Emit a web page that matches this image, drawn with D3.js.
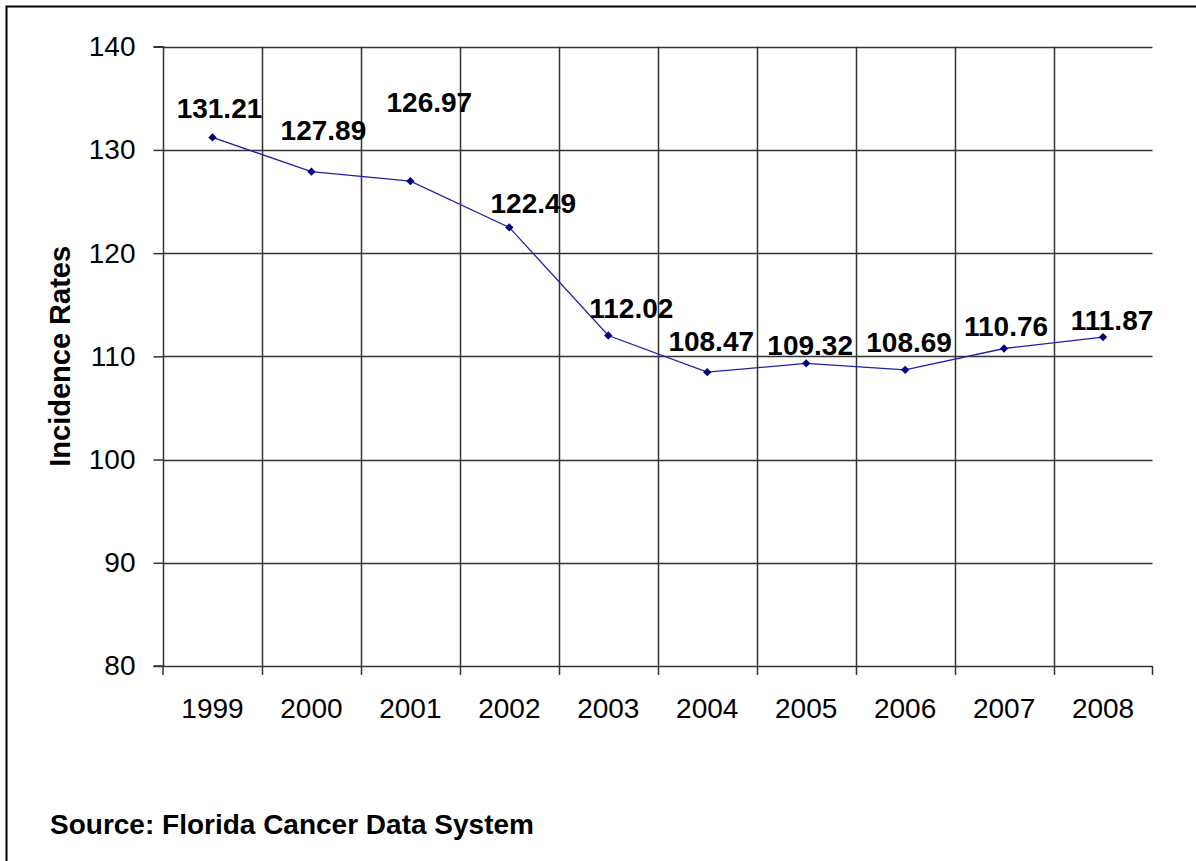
<!DOCTYPE html>
<html>
<head>
<meta charset="utf-8">
<script src="https://cdn.jsdelivr.net/npm/d3@7/dist/d3.min.js"></script>
<style>
  html, body { margin: 0; padding: 0; background: #fff; overflow: hidden; }
  svg { display: block; font-family: "Liberation Sans", Arial, sans-serif; }
</style>
</head>
<body>
<svg id="chart" width="1196" height="861"></svg>
<script>
// ---- data ----
const years = ["1999","2000","2001","2002","2003","2004","2005","2006","2007","2008"];
const rates = [131.21, 127.89, 126.97, 122.49, 112.02, 108.47, 109.32, 108.69, 110.76, 111.87];
const yTicks = [80, 90, 100, 110, 120, 130, 140];
// manual label nudges (dx, dy in px) relative to each point
const labelDx = [7, 12, 19, 24, 23, 4, 4, 4, 2, 9];
const labelDy = [-19, -32, -69, -14, -18, -21, -8, -18, -13, -7];
const yTitle = "Incidence Rates";
const sourceText = "Source: Florida Cancer Data System";

(function () {
// ---- layout ----
const svg = d3.select("#chart");
const pLeft = 163, pRight = 1152.5, pTop = 46.7, pBottom = 666;
const gridColor = "#333";

// outer frame (extends past right and bottom edges, as in the reference)
svg.append("rect")
  .attr("x", 6.5).attr("y", 6.5).attr("width", 1200).attr("height", 870)
  .attr("fill", "#fff").attr("stroke", "#000").attr("stroke-width", 2);

const x = d3.scaleBand().domain(years).range([pLeft, pRight]).paddingInner(0).paddingOuter(0);
const y = d3.scaleLinear().domain([80, 140]).range([pBottom, pTop]);

// horizontal gridlines
svg.append("g").selectAll("line").data(yTicks).join("line")
  .attr("x1", pLeft).attr("x2", pRight)
  .attr("y1", d => Math.round(y(d)) + 0.5).attr("y2", d => Math.round(y(d)) + 0.5)
  .attr("stroke", gridColor).attr("stroke-width", 1.5);

// vertical gridlines at category boundaries (interior)
const bounds = years.slice(1).map(d => x(d));
svg.append("g").selectAll("line").data(bounds).join("line")
  .attr("x1", d => Math.round(d) + 0.5).attr("x2", d => Math.round(d) + 0.5)
  .attr("y1", pTop).attr("y2", pBottom + 9)
  .attr("stroke", gridColor).attr("stroke-width", 1.5);

// y axis
const yAxis = d3.axisLeft(y).tickValues(yTicks).tickSize(10).tickPadding(18);
const gy = svg.append("g").attr("transform", `translate(${pLeft + 0.5},0)`).call(yAxis);
gy.select(".domain").attr("stroke", gridColor).attr("stroke-width", 1.5).attr("d", `M-10,${pTop}H0V${pBottom}H-10`);
gy.selectAll(".tick line").attr("stroke", gridColor).attr("stroke-width", 1.5);
gy.selectAll(".tick text").attr("font-size", 28).attr("fill", "#000")
  .attr("font-family", "Liberation Sans, Arial, sans-serif");

// x axis end ticks
svg.append("g").selectAll("line").data([pLeft, pRight]).join("line")
  .attr("x1", d => d).attr("x2", d => d)
  .attr("y1", pBottom).attr("y2", pBottom + 9)
  .attr("stroke", gridColor).attr("stroke-width", 1.5);

// x labels
svg.append("g").selectAll("text").data(years).join("text")
  .attr("x", d => x(d) + x.bandwidth() / 2)
  .attr("y", pBottom + 52)
  .attr("text-anchor", "middle")
  .attr("font-size", 28).attr("fill", "#000")
  .text(d => d);

// y title
svg.append("text")
  .attr("transform", `translate(70,${(pTop + pBottom) / 2}) rotate(-90)`)
  .attr("text-anchor", "middle")
  .attr("font-size", 29).attr("font-weight", "bold").attr("fill", "#000")
  .text(yTitle);

// line
const pts = years.map((d, i) => ({ year: d, v: rates[i], i }));
const line = d3.line().x(d => x(d.year) + x.bandwidth() / 2).y(d => y(d.v));
svg.append("path").datum(pts)
  .attr("d", line).attr("fill", "none")
  .attr("stroke", "#2020a8").attr("stroke-width", 1.3);

// markers
svg.append("g").selectAll("path").data(pts).join("path")
  .attr("transform", d => `translate(${x(d.year) + x.bandwidth() / 2},${y(d.v)})`)
  .attr("d", d3.symbol().type(d3.symbolDiamond2).size(44))
  .attr("fill", "#000080");

// data labels
svg.append("g").selectAll("text").data(pts).join("text")
  .attr("x", d => x(d.year) + x.bandwidth() / 2 + labelDx[d.i])
  .attr("y", d => y(d.v) + labelDy[d.i])
  .attr("text-anchor", "middle")
  .attr("font-size", 28).attr("font-weight", "bold").attr("fill", "#000")
  .text(d => d.v.toFixed(2));

// source
svg.append("text")
  .attr("x", 50).attr("y", 834)
  .attr("font-size", 28).attr("font-weight", "bold").attr("fill", "#000")
  .text(sourceText);
})();
</script>
</body>
</html>
